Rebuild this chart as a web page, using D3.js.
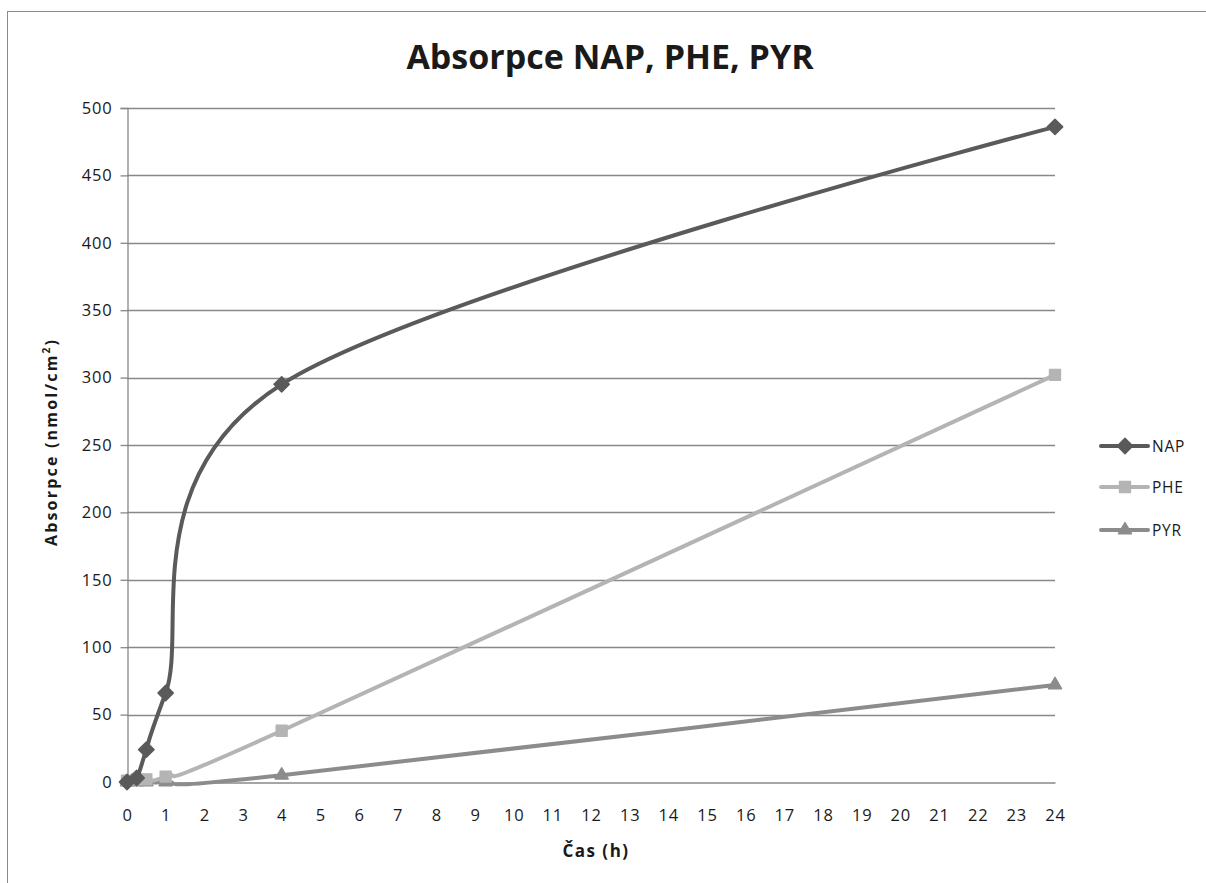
<!DOCTYPE html>
<html>
<head>
<meta charset="utf-8">
<script src="https://cdn.jsdelivr.net/npm/d3@7"></script>
<style>
  html, body { margin: 0; padding: 0; background: #fff; }
  svg { display: block; }
  text { font-family: "Open Sans", "DejaVu Sans", sans-serif; fill: #1a1a1a; }
</style>
</head>
<body>
<svg id="chart" width="1206" height="883"></svg>
<script>
// Sampling times (h)
const times = [0, 0.25, 0.5, 1, 4, 24];
// Absorbed amount (nmol/cm²) for each compound
const napValues = [0, 3, 24, 66, 295, 486];
const pheValues = [1, 2, 2, 4, 38, 302];
const pyrValues = [0, 0, 0, 0, 5, 72];
const seriesNames = ["NAP", "PHE", "PYR"];
const xTicks = d3.range(0, 25, 1);
const yTicks = [0, 50, 100, 150, 200, 250, 300, 350, 400, 450, 500];

const series = [
  { name: seriesNames[0], values: napValues, color: "#5a5a5a", marker: "diamond" },
  { name: seriesNames[1], values: pheValues, color: "#b4b4b4", marker: "square" },
  { name: seriesNames[2], values: pyrValues, color: "#8c8c8c", marker: "triangle" }
];

const svg = d3.select("#chart");
const FONT = "'Open Sans', sans-serif";

// Outer chart frame (runs past the right and bottom edges)
svg.append("rect")
  .attr("x", 7.5).attr("y", 11.5)
  .attr("width", 1240).attr("height", 920)
  .attr("fill", "none").attr("stroke", "#8a8a8a").attr("stroke-width", 1);

const x = d3.scaleLinear().domain([0, 24]).range([127, 1055]);
const y = d3.scaleLinear().domain([0, 500]).range([782, 108]);

// Y axis with short outside ticks
const yAxis = d3.axisLeft(y).tickValues(yTicks).tickSize(7).tickPadding(8);
const gy = svg.append("g").attr("transform", "translate(127.5,0)").call(yAxis);
gy.select(".domain").attr("stroke", "#888").attr("stroke-width", 1.3);
gy.selectAll(".tick line").attr("stroke", "#888").attr("stroke-width", 1.3);
gy.selectAll(".tick text")
  .attr("font-size", 16.5).attr("fill", "#1a1a1a")
  .attr("letter-spacing", 0.8)
  .style("font-family", FONT);

// Horizontal gridlines
svg.append("g").selectAll("line").data(yTicks.filter(d => d > 0)).join("line")
  .attr("x1", x(0)).attr("x2", x(24))
  .attr("y1", d => Math.round(y(d)) + 0.5).attr("y2", d => Math.round(y(d)) + 0.5)
  .attr("stroke", "#888").attr("stroke-width", 1.3);

// X axis: line and labels only
const xAxis = d3.axisBottom(x).tickValues(xTicks).tickSize(0).tickFormat(d3.format("d"));
const gx = svg.append("g").attr("transform", "translate(0,782.5)").call(xAxis);
gx.select(".domain").attr("stroke", "#888").attr("stroke-width", 1.3);
gx.selectAll(".tick text")
  .attr("font-size", 16.5).attr("fill", "#1a1a1a")
  .attr("letter-spacing", 0.8)
  .attr("dy", "0").attr("y", 38)
  .style("font-family", FONT);

// Smoothed series lines
const line = d3.line()
  .x((d, i) => x(times[i]))
  .y(d => y(d))
  .curve(d3.curveCardinal.tension(0));

const symbolType = { diamond: d3.symbolDiamond2, square: d3.symbolSquare2, triangle: d3.symbolTriangle2 };
const symbolSize = { diamond: 150, square: 150, triangle: 120 };

function drawMarker(g, type, cx, cy, color) {
  g.append("path")
    .attr("d", d3.symbol().type(symbolType[type]).size(symbolSize[type])())
    .attr("transform", `translate(${cx},${cy})`)
    .attr("fill", color).attr("stroke", color).attr("stroke-width", 1.5)
    .attr("stroke-linejoin", "round");
}

// Draw in reverse so NAP ends up on top
[...series].reverse().forEach(s => {
  const g = svg.append("g");
  g.append("path")
    .datum(s.values)
    .attr("d", line)
    .attr("fill", "none")
    .attr("stroke", s.color)
    .attr("stroke-width", 4)
    .attr("stroke-linejoin", "round")
    .attr("stroke-linecap", "round");
  s.values.forEach((v, i) => drawMarker(g, s.marker, x(times[i]), y(v), s.color));
});

// Title
svg.append("text")
  .attr("x", 610).attr("y", 69)
  .attr("text-anchor", "middle")
  .attr("font-size", 34).attr("font-weight", "bold")
  .attr("fill", "#000")
  .style("font-family", FONT)
  .text("Absorpce NAP, PHE, PYR");

// Axis titles
const yTitle = svg.append("text")
  .attr("transform", "translate(57,442) rotate(-90)")
  .attr("text-anchor", "middle")
  .attr("font-size", 16).attr("font-weight", "bold")
  .attr("letter-spacing", 2.2)
  .attr("fill", "#000")
  .style("font-family", FONT);
yTitle.append("tspan").text("Absorpce (nmol/cm");
yTitle.append("tspan").attr("baseline-shift", "super").attr("font-size", 10).text("2");
yTitle.append("tspan").text(")");

svg.append("text")
  .attr("x", 596).attr("y", 857)
  .attr("text-anchor", "middle")
  .attr("font-size", 17).attr("font-weight", "bold")
  .attr("letter-spacing", 1.5)
  .attr("fill", "#000")
  .style("font-family", FONT)
  .text("Čas (h)");

// Legend
const legendY = [446, 487, 530];
series.forEach((s, i) => {
  const g = svg.append("g");
  g.append("line")
    .attr("x1", 1101).attr("x2", 1148)
    .attr("y1", legendY[i]).attr("y2", legendY[i])
    .attr("stroke", s.color).attr("stroke-width", 4).attr("stroke-linecap", "round");
  drawMarker(g, s.marker, 1125, legendY[i], s.color);
  g.append("text")
    .attr("x", 1152).attr("y", legendY[i] + 6)
    .attr("font-size", 15.5)
    .attr("letter-spacing", 0.8)
    .style("font-family", FONT)
    .text(s.name);
});
</script>
</body>
</html>
